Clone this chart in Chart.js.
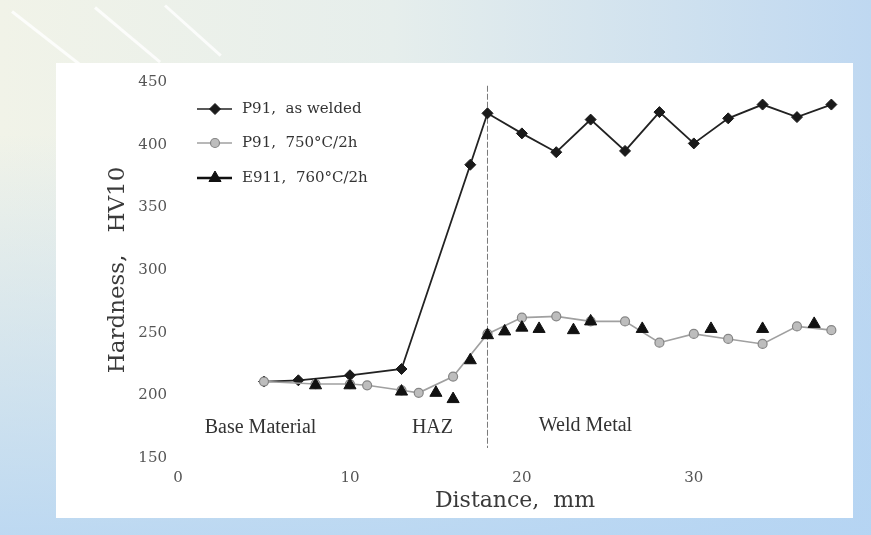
<!DOCTYPE html>
<html>
<head>
<meta charset="utf-8">
<script src="https://cdn.jsdelivr.net/npm/chart.js@4.4.1/dist/chart.umd.min.js"></script>
<style>
  html, body { margin: 0; padding: 0; }
  body {
    width: 871px; height: 535px; overflow: hidden; position: relative;
    background:
      linear-gradient(to bottom, rgba(180,212,243,0) 25%, rgba(180,212,243,0.85) 100%),
      linear-gradient(to right, #f1f3e8 0%, #e6eeec 45%, #bfd8f1 100%);
  }
  .streak { position: absolute; height: 3px; background: rgba(255,255,255,0.8); transform-origin: 0 50%; }
  #panel { position: absolute; left: 56px; top: 63px; width: 797px; height: 455px; background: #ffffff; }
  #c { position: absolute; left: 0; top: 0; }
</style>
</head>
<body>
<div class="streak" style="left:12px;top:10px;width:95px;transform:rotate(38deg)"></div>
<div class="streak" style="left:95px;top:6px;width:85px;transform:rotate(40deg)"></div>
<div class="streak" style="left:165px;top:4px;width:75px;transform:rotate(42deg)"></div>
<div id="panel"></div>
<canvas id="c" width="871" height="535"></canvas>
<script>
// ---- data ----
const distanceWelded = [5, 7, 10, 13, 17, 18, 20, 22, 24, 26, 28, 30, 32, 34, 36, 38];
const hardnessWelded = [211, 212, 216, 221, 384, 425, 409, 394, 420, 395, 426, 401, 421, 432, 422, 432];

const distance750 = [5, 8, 10, 11, 13, 14, 16, 18, 20, 22, 24, 26, 28, 30, 32, 34, 36, 38];
const hardness750 = [211, 209, 209, 208, 204, 202, 215, 249, 262, 263, 259, 259, 242, 249, 245, 241, 255, 252];

const distanceE911 = [8, 10, 13, 15, 16, 17, 18, 19, 20, 21, 23, 24, 27, 31, 34, 37];
const hardnessE911 = [208, 208, 203, 202, 197, 228, 248, 251, 254, 253, 252, 259, 253, 253, 253, 257];

const seriesNames = ['P91,  as welded', 'P91,  750°C/2h', 'E911,  760°C/2h'];
const xTickValues = [0, 10, 20, 30];
const yTickValues = [150, 200, 250, 300, 350, 400, 450];
const regionNames = ['Base Material', 'HAZ', 'Weld Metal'];
const fusionLineAt = 18;

// ---- layout / styling (not data) ----
const regionLabelPos = [{x: 4.8, y: 174}, {x: 14.8, y: 174}, {x: 23.7, y: 176}];
const legendRows = [109, 143, 178];
const serif = "'DejaVu Serif', serif";

const toPts = (xs, ys) => xs.map((x, i) => ({x: x, y: ys[i]}));

const datasets = [
  {
    label: seriesNames[0], data: toPts(distanceWelded, hardnessWelded), order: 2,
    showLine: true, borderColor: '#222222', borderWidth: 1.8,
    pointStyle: 'rectRot', pointRadius: 5.5, pointBackgroundColor: '#1a1a1a',
    pointBorderColor: '#1a1a1a', pointBorderWidth: 1, tension: 0
  },
  {
    label: seriesNames[1], data: toPts(distance750, hardness750), order: 1,
    showLine: true, borderColor: '#a0a0a0', borderWidth: 1.6,
    pointStyle: 'circle', pointRadius: 4.5, pointBackgroundColor: '#bdbdbd',
    pointBorderColor: '#858585', pointBorderWidth: 1.2, tension: 0
  },
  {
    label: seriesNames[2], data: toPts(distanceE911, hardnessE911), order: 0,
    showLine: false, borderColor: '#111111', borderWidth: 2,
    pointStyle: 'triangle', pointRadius: 7, pointBackgroundColor: '#111111',
    pointBorderColor: '#111111', pointBorderWidth: 1
  }
];

const paperDecor = {
  id: 'paperDecor',
  beforeDatasetsDraw(chart) {
    const {ctx, scales: {x, y}} = chart;
    const px = x.getPixelForValue(fusionLineAt);
    ctx.save();
    ctx.strokeStyle = '#7a7a7a';
    ctx.lineWidth = 1;
    ctx.setLineDash([6, 2]);
    ctx.beginPath();
    ctx.moveTo(px, y.getPixelForValue(447));
    ctx.lineTo(px, y.getPixelForValue(158));
    ctx.stroke();
    ctx.restore();
  },
  afterDraw(chart) {
    const {ctx, scales: {x, y}} = chart;
    ctx.save();
    ctx.font = "20px 'Liberation Serif', serif";
    ctx.fillStyle = '#333333';
    ctx.textAlign = 'center';
    ctx.textBaseline = 'middle';
    regionNames.forEach((name, i) => {
      ctx.fillText(name, x.getPixelForValue(regionLabelPos[i].x), y.getPixelForValue(regionLabelPos[i].y));
    });
    ctx.textAlign = 'left';
    ctx.font = '15px ' + serif;
    chart.data.datasets.forEach((ds, i) => {
      const ry = legendRows[i];
      ctx.setLineDash([]);
      ctx.strokeStyle = ds.borderColor;
      ctx.lineWidth = i === 2 ? 2.4 : 1.6;
      ctx.beginPath();
      ctx.moveTo(197, ry);
      ctx.lineTo(232, ry);
      ctx.stroke();
      ctx.fillStyle = ds.pointBackgroundColor;
      ctx.strokeStyle = ds.pointBorderColor;
      ctx.lineWidth = ds.pointBorderWidth;
      Chart.helpers.drawPoint(ctx, {
        pointStyle: ds.pointStyle, radius: ds.pointRadius, rotation: 0,
        borderWidth: ds.pointBorderWidth
      }, 215, ry);
      ctx.fillStyle = '#333333';
      ctx.fillText(ds.label, 242, ry);
    });
    ctx.restore();
  }
};

new Chart(document.getElementById('c'), {
  type: 'scatter',
  data: {datasets},
  options: {
    responsive: false,
    animation: false,
    layout: {padding: {top: 82, right: 19, bottom: 0, left: 0}},
    plugins: {legend: {display: false}, tooltip: {enabled: false}},
    scales: {
      x: {
        type: 'linear', min: 0, max: 39.2,
        grid: {display: false, drawTicks: false},
        border: {display: false},
        afterBuildTicks: (s) => { s.ticks = xTickValues.map(v => ({value: v})); },
        afterFit: (s) => { s.height = 77; },
        ticks: {color: '#555555', padding: 11, font: {family: serif, size: 15}},
        title: {
          display: true, text: 'Distance,  mm', color: '#3a3a3a',
          font: {family: serif, size: 22}, padding: {top: 0, bottom: 21}
        }
      },
      y: {
        type: 'linear', min: 150, max: 450,
        grid: {display: false, drawTicks: false},
        border: {display: false},
        afterBuildTicks: (s) => { s.ticks = yTickValues.map(v => ({value: v})); },
        afterFit: (s) => { s.width = 178; },
        ticks: {color: '#555555', padding: 11, font: {family: serif, size: 15}},
        title: {
          display: true, text: 'Hardness,   HV10', color: '#3a3a3a',
          font: {family: serif, size: 23}, padding: {top: 104, bottom: 0}
        }
      }
    }
  },
  plugins: [paperDecor]
});
</script>
</body>
</html>
